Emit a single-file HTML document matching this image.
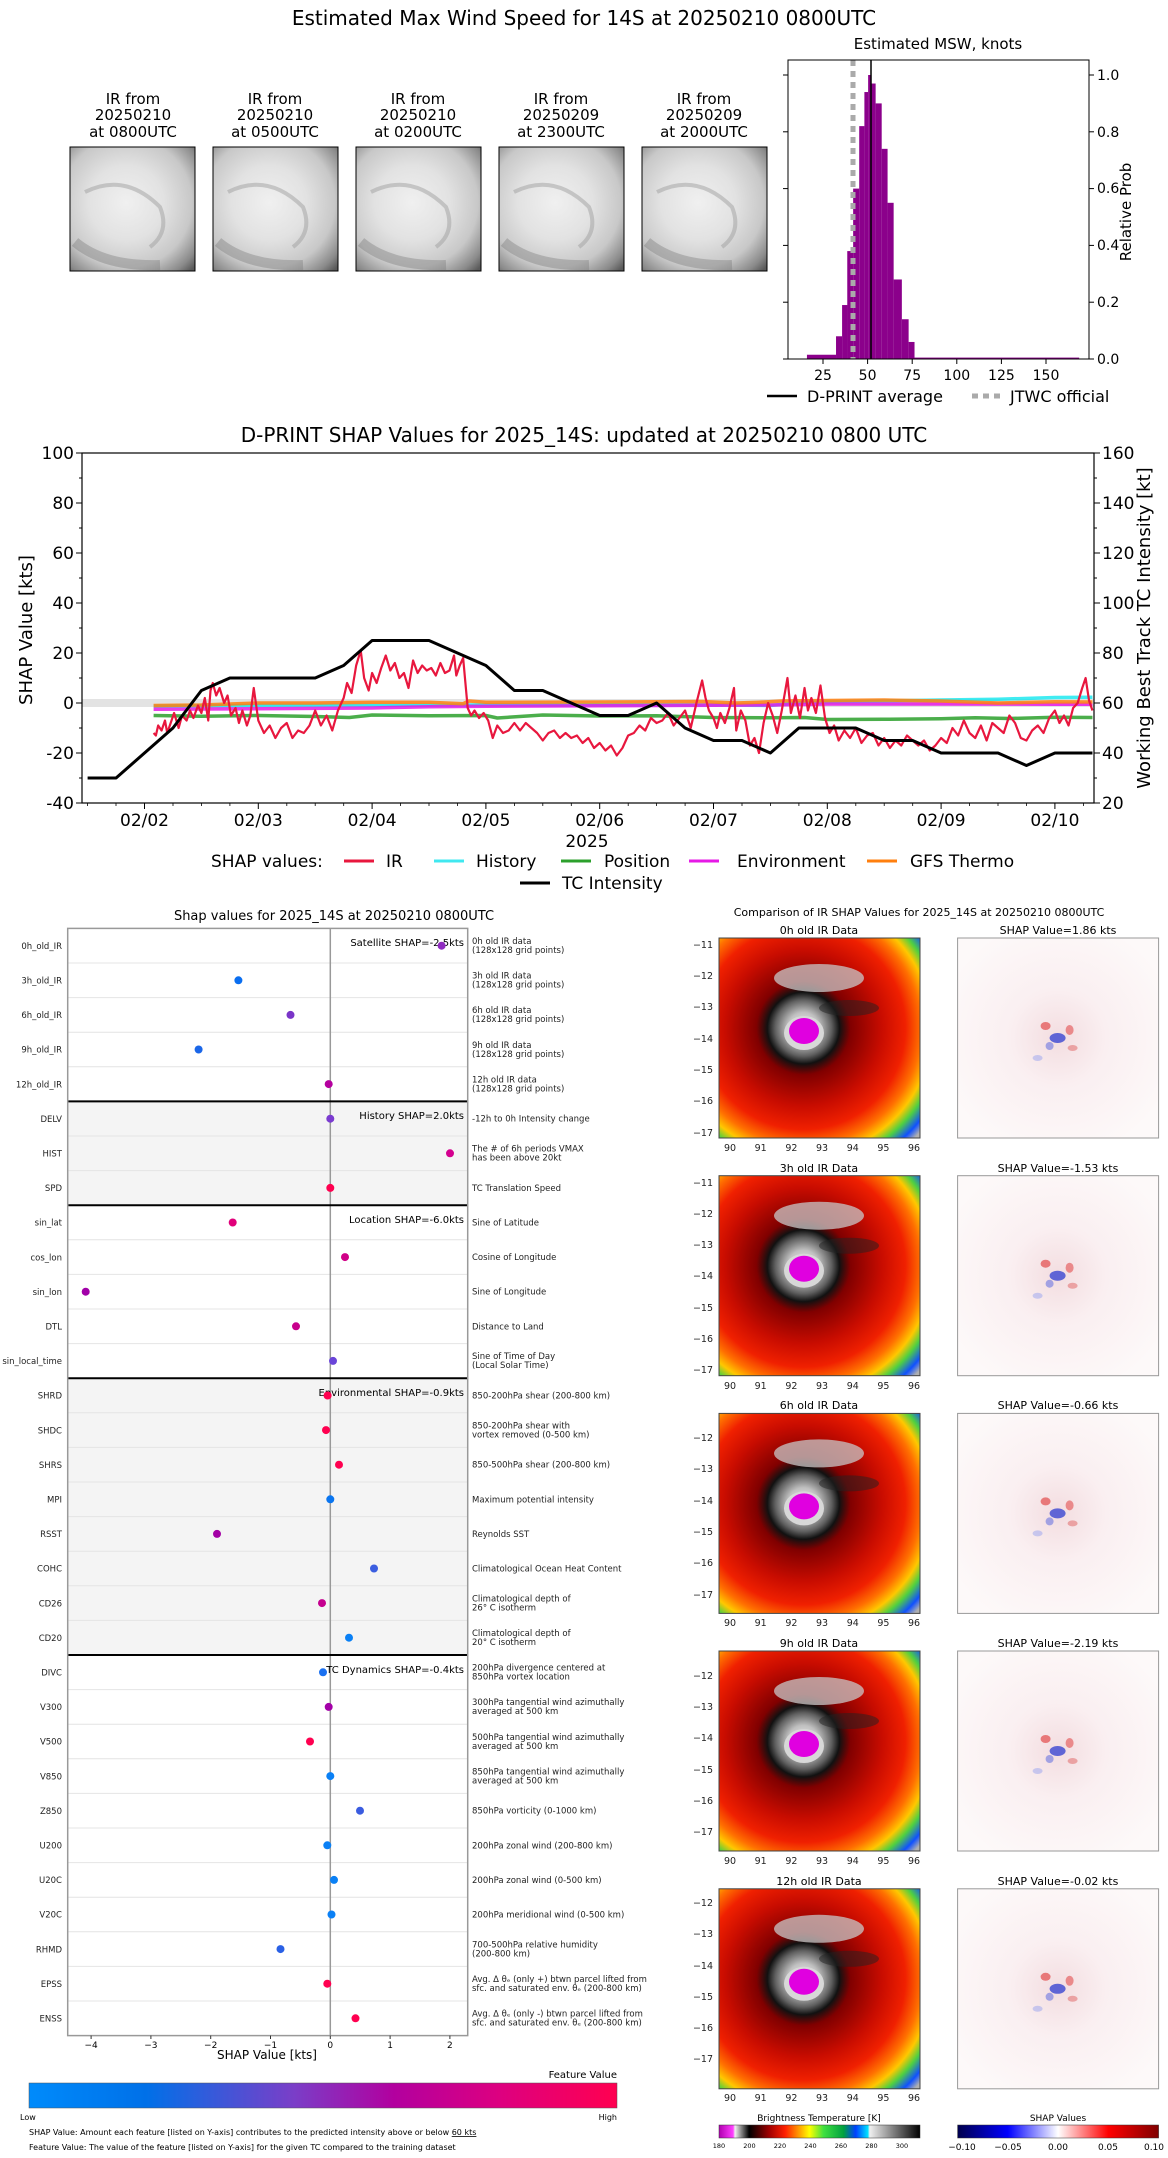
<!DOCTYPE html>
<html><head><meta charset="utf-8"><style>
html,body{margin:0;padding:0;background:#fff;}
svg{display:block;font-family:"DejaVu Sans","Liberation Sans",sans-serif;}
</style></head><body>
<svg width="1168" height="2158" viewBox="0 0 1168 2158" xmlns="http://www.w3.org/2000/svg">
<defs>
<radialGradient id="gthumb" cx="45%" cy="45%" r="75%">
<stop offset="0" stop-color="#f0f0f0"/><stop offset="0.4" stop-color="#e2e2e2"/><stop offset="0.7" stop-color="#c8c8c8"/><stop offset="0.9" stop-color="#8a8a8a"/><stop offset="1" stop-color="#5a5a5a"/>
</radialGradient>
<radialGradient id="girr" cx="42%" cy="45%" r="78%">
<stop offset="0" stop-color="#f0f0f0"/><stop offset="0.1" stop-color="#c0c0c0"/><stop offset="0.18" stop-color="#606060"/><stop offset="0.23" stop-color="#111"/><stop offset="0.3" stop-color="#800000"/><stop offset="0.5" stop-color="#c80c00"/><stop offset="0.65" stop-color="#f02000"/><stop offset="0.75" stop-color="#ff7000"/><stop offset="0.82" stop-color="#ffc800"/><stop offset="0.88" stop-color="#50d040"/><stop offset="0.95" stop-color="#1050ff"/><stop offset="1" stop-color="#b0b0b0"/>
</radialGradient>
<radialGradient id="gshap" cx="50%" cy="50%" r="60%">
<stop offset="0" stop-color="#f3dde0"/><stop offset="0.4" stop-color="#faeff1"/><stop offset="1" stop-color="#fdf9f9"/>
</radialGradient>
<linearGradient id="gfeat" x1="0" x2="1" y1="0" y2="0">
<stop offset="0" stop-color="#008bfb"/><stop offset="0.2" stop-color="#0070e8"/><stop offset="0.45" stop-color="#7a3ec8"/><stop offset="0.62" stop-color="#b2009f"/><stop offset="0.8" stop-color="#dd0080"/><stop offset="1" stop-color="#ff0050"/>
</linearGradient>
<linearGradient id="gbt" x1="0" x2="1" y1="0" y2="0">
<stop offset="0" stop-color="#b000b0"/><stop offset="0.07" stop-color="#ff40ff"/><stop offset="0.08" stop-color="#f0f0f0"/><stop offset="0.15" stop-color="#000"/><stop offset="0.25" stop-color="#a00000"/><stop offset="0.33" stop-color="#ff2000"/><stop offset="0.4" stop-color="#ffa000"/><stop offset="0.45" stop-color="#ffff00"/><stop offset="0.52" stop-color="#40e040"/><stop offset="0.62" stop-color="#00a040"/><stop offset="0.68" stop-color="#0040ff"/><stop offset="0.74" stop-color="#00e0ff"/><stop offset="0.75" stop-color="#f0f0f0"/><stop offset="1" stop-color="#000"/>
</linearGradient>
<linearGradient id="gsv" x1="0" x2="1" y1="0" y2="0">
<stop offset="0" stop-color="#00004c"/><stop offset="0.25" stop-color="#0000ff"/><stop offset="0.5" stop-color="#ffffff"/><stop offset="0.75" stop-color="#ff0000"/><stop offset="1" stop-color="#800000"/>
</linearGradient>
<symbol id="thumb" viewBox="0 0 125 124" width="125" height="124">
<rect width="125" height="124" fill="url(#gthumb)"/>
<path d="M15 45 Q55 25 90 60 Q100 85 80 100" fill="none" stroke="#a0a0a0" stroke-width="4" opacity="0.5"/>
<path d="M5 95 Q35 120 90 118" fill="none" stroke="#707070" stroke-width="10" opacity="0.35"/>
</symbol>
<symbol id="ir" viewBox="0 0 201 200" width="201" height="200">
<rect width="201" height="200" fill="#b00800"/>
<rect width="201" height="200" fill="url(#girr)"/>
<ellipse cx="100" cy="40" rx="45" ry="14" fill="#c8c8c8" opacity="0.75"/>
<ellipse cx="130" cy="70" rx="30" ry="8" fill="#222" opacity="0.5"/>
<ellipse cx="85" cy="95" rx="20" ry="17" fill="#d8d8d8"/>
<ellipse cx="85" cy="93" rx="15" ry="13" fill="#e000e0"/>
</symbol>
<symbol id="sh" viewBox="0 0 201 200" width="201" height="200">
<rect width="201" height="200" fill="url(#gshap)"/>
<ellipse cx="100" cy="100" rx="8" ry="5" fill="#2030d0" opacity="0.7"/>
<ellipse cx="88" cy="88" rx="5" ry="4" fill="#e03030" opacity="0.6"/>
<ellipse cx="112" cy="92" rx="4" ry="5" fill="#e03030" opacity="0.5"/>
<ellipse cx="92" cy="108" rx="4" ry="4" fill="#5060e0" opacity="0.5"/>
<ellipse cx="115" cy="110" rx="5" ry="3" fill="#e06060" opacity="0.5"/>
<ellipse cx="80" cy="120" rx="5" ry="3" fill="#8090f0" opacity="0.4"/>
</symbol>
</defs>

<!-- ===== TOP ===== -->
<text x="584" y="25" font-size="20" text-anchor="middle">Estimated Max Wind Speed for 14S at 20250210 0800UTC</text>
<g font-size="15" text-anchor="middle">
<text x="133" y="104">IR from</text><text x="133" y="120">20250210</text><text x="133" y="137">at 0800UTC</text>
<text x="275" y="104">IR from</text><text x="275" y="120">20250210</text><text x="275" y="137">at 0500UTC</text>
<text x="418" y="104">IR from</text><text x="418" y="120">20250210</text><text x="418" y="137">at 0200UTC</text>
<text x="561" y="104">IR from</text><text x="561" y="120">20250209</text><text x="561" y="137">at 2300UTC</text>
<text x="704" y="104">IR from</text><text x="704" y="120">20250209</text><text x="704" y="137">at 2000UTC</text>
</g>
<use href="#thumb" x="70" y="147"/><use href="#thumb" x="213" y="147"/><use href="#thumb" x="356" y="147"/><use href="#thumb" x="499" y="147"/><use href="#thumb" x="642" y="147"/>
<g fill="none" stroke="#000" stroke-width="1">
<rect x="70" y="147" width="125" height="124"/><rect x="213" y="147" width="125" height="124"/><rect x="356" y="147" width="125" height="124"/><rect x="499" y="147" width="125" height="124"/><rect x="642" y="147" width="125" height="124"/>
</g>

<!-- histogram -->
<text x="938" y="49" font-size="15" text-anchor="middle">Estimated MSW, knots</text>
<g transform="matrix(1.784 0 0 -284 778.4 359)" fill="#8b008b">
<rect x="16" y="0" width="16.3" height="0.015"/>
<rect x="32.3" y="0" width="3.4" height="0.08"/>
<rect x="35.7" y="0" width="3" height="0.19"/>
<rect x="38.6" y="0" width="3.3" height="0.38"/>
<rect x="41.9" y="0" width="3.4" height="0.6"/>
<rect x="45.3" y="0" width="2.9" height="0.82"/>
<rect x="48.2" y="0" width="2.1" height="0.94"/>
<rect x="50.3" y="0" width="1.8" height="1.0"/>
<rect x="52" y="0" width="2.5" height="0.97"/>
<rect x="54.5" y="0" width="3.4" height="0.9"/>
<rect x="57.9" y="0" width="3.3" height="0.74"/>
<rect x="61.2" y="0" width="3.4" height="0.55"/>
<rect x="64.6" y="0" width="4.6" height="0.28"/>
<rect x="69.2" y="0" width="3.8" height="0.14"/>
<rect x="73" y="0" width="3.3" height="0.06"/>
<rect x="76.3" y="0" width="92.3" height="0.005"/>
</g>
<line x1="853" y1="60" x2="853" y2="359" stroke="#aaa" stroke-width="5" stroke-dasharray="6,5"/>
<line x1="871" y1="60" x2="871" y2="359" stroke="#000" stroke-width="1.5"/>
<rect x="788" y="60" width="301" height="299" fill="none" stroke="#000" stroke-width="1"/>
<g stroke="#000">
<line x1="823" y1="359" x2="823" y2="364"/><line x1="867.6" y1="359" x2="867.6" y2="364"/><line x1="912.2" y1="359" x2="912.2" y2="364"/><line x1="956.8" y1="359" x2="956.8" y2="364"/><line x1="1001.4" y1="359" x2="1001.4" y2="364"/><line x1="1046" y1="359" x2="1046" y2="364"/>
<line x1="1089" y1="359" x2="1094" y2="359"/><line x1="1089" y1="302.2" x2="1094" y2="302.2"/><line x1="1089" y1="245.4" x2="1094" y2="245.4"/><line x1="1089" y1="188.6" x2="1094" y2="188.6"/><line x1="1089" y1="131.8" x2="1094" y2="131.8"/><line x1="1089" y1="75" x2="1094" y2="75"/>
<line x1="783" y1="359" x2="788" y2="359"/><line x1="783" y1="302.2" x2="788" y2="302.2"/><line x1="783" y1="245.4" x2="788" y2="245.4"/><line x1="783" y1="188.6" x2="788" y2="188.6"/><line x1="783" y1="131.8" x2="788" y2="131.8"/><line x1="783" y1="75" x2="788" y2="75"/>
</g>
<g font-size="14" text-anchor="middle">
<text x="823" y="380">25</text><text x="867.6" y="380">50</text><text x="912.2" y="380">75</text><text x="956.8" y="380">100</text><text x="1001.4" y="380">125</text><text x="1046" y="380">150</text>
</g>
<g font-size="14">
<text x="1097" y="364">0.0</text><text x="1097" y="307">0.2</text><text x="1097" y="250">0.4</text><text x="1097" y="193">0.6</text><text x="1097" y="137">0.8</text><text x="1097" y="80">1.0</text>
</g>
<text x="0" y="0" font-size="15" text-anchor="middle" transform="translate(1131 212) rotate(-90)">Relative Prob</text>
<line x1="767" y1="396" x2="797" y2="396" stroke="#000" stroke-width="2.5"/>
<text x="807" y="402" font-size="16">D-PRINT average</text>
<line x1="972" y1="396" x2="1000" y2="396" stroke="#aaa" stroke-width="5" stroke-dasharray="6,5"/>
<text x="1010" y="402" font-size="16">JTWC official</text>

<!-- ===== MIDDLE CHART ===== -->
<text x="584" y="442" font-size="20" text-anchor="middle">D-PRINT SHAP Values for 2025_14S: updated at 20250210 0800 UTC</text>
<rect x="82" y="699" width="1012" height="8" fill="#e3e3e3"/>
<g fill="none" stroke-linejoin="round">
<polyline vector-effect="non-scaling-stroke" stroke="#00e5ee" stroke-opacity="0.75" stroke-width="3.5" transform="matrix(113.8 0 0 -2.5 -83.1 703)" points="2.08,-1.3 3,-1 4,-1 5,-0.8 6,-0.8 7,-0.8 7.5,-1 7.8,0.3 8.5,0.8 9,1.2 9.5,1.5 10,2.2 10.33,2.3"/>
<polyline vector-effect="non-scaling-stroke" stroke="#2ca02c" stroke-opacity="0.85" stroke-width="3.5" transform="matrix(113.8 0 0 -2.5 -83.1 703)" points="2.08,-5 2.5,-5.3 3,-5 3.5,-5.4 3.8,-5.8 4,-4.8 4.5,-5.1 5,-5 5.1,-6 5.5,-4.8 6,-5.2 6.5,-5.1 7,-5.8 7.5,-5.9 7.8,-5.8 8,-6.6 8.5,-6.5 9,-6.3 9.3,-5.9 9.6,-6.2 10,-5.7 10.33,-5.8"/>
<polyline vector-effect="non-scaling-stroke" stroke="#e619e6" stroke-opacity="0.85" stroke-width="3.5" transform="matrix(113.8 0 0 -2.5 -83.1 703)" points="2.08,-2.5 3,-2.3 4,-2 4.5,-1.5 5,-1.3 6,-1.1 7,-0.9 7.5,-0.8 8,-0.4 9,-0.4 10,-0.5 10.33,-0.5"/>
<polyline vector-effect="non-scaling-stroke" stroke="#ff7f0e" stroke-opacity="0.85" stroke-width="3.5" transform="matrix(113.8 0 0 -2.5 -83.1 703)" points="2.08,-1 2.5,-0.8 3,0 3.5,0 4,0.3 4.5,0.3 4.8,-0.3 4.85,0.8 5,0.3 6,0.4 6.5,0.5 6.9,0.6 7.2,0 7.4,0.3 7.6,0.8 8,1 8.5,1.2 9,0.8 9.5,0 10,0.5 10.33,0.4"/>
<polyline vector-effect="non-scaling-stroke" stroke="#e8173e" stroke-width="2.2" transform="matrix(113.8 0 0 -2.5 -83.1 703)" points="2.08,-12 2.1,-13 2.12,-9 2.15,-11 2.18,-7 2.2,-12 2.23,-8 2.26,-4 2.3,-10 2.33,-5 2.37,-7 2.4,-3 2.43,-6 2.47,-1 2.5,-4 2.53,2 2.56,-7 2.58,5 2.6,8 2.63,3 2.66,6 2.7,0 2.73,3 2.76,-5 2.8,-2 2.83,-8 2.86,-3 2.9,-9 2.93,-5 2.96,6 3.0,-7 3.05,-12 3.1,-9 3.15,-14 3.2,-10 3.25,-8 3.3,-14 3.35,-11 3.4,-12 3.45,-9 3.5,-3 3.55,-9 3.6,-5 3.65,-11 3.7,-3 3.75,2 3.78,8 3.82,4 3.86,15 3.9,21 3.93,10 3.97,5 4.0,12 4.04,8 4.08,14 4.12,19 4.16,13 4.2,16 4.24,10 4.28,12 4.32,6 4.36,17 4.4,12 4.44,15 4.48,13 4.52,14 4.56,11 4.6,16 4.64,12 4.68,13 4.72,19 4.74,11 4.77,15 4.8,18 4.82,8 4.84,-2 4.87,-5 4.9,-3 4.94,-6 4.98,-4 5.02,-7 5.06,-14 5.1,-9 5.15,-12 5.2,-11 5.25,-8 5.3,-11 5.35,-8 5.4,-10 5.45,-12 5.5,-15 5.55,-12 5.6,-11 5.65,-14 5.7,-12 5.75,-14 5.8,-13 5.85,-16 5.9,-14 5.95,-18 6.0,-16 6.05,-19 6.1,-17 6.15,-21 6.2,-18 6.25,-13 6.3,-12 6.35,-9 6.4,-11 6.45,-6 6.5,-8 6.55,-7 6.6,-4 6.65,-9 6.7,-6 6.75,-3 6.8,-10 6.85,0 6.9,9 6.93,2 6.96,-3 7.0,-6 7.03,-10 7.06,-4 7.1,-8 7.14,-2 7.18,6 7.2,-11 7.24,-3 7.28,-7 7.32,-17 7.36,-14 7.4,-20 7.44,-8 7.48,0 7.52,-5 7.56,-12 7.6,-3 7.65,10 7.68,-4 7.72,3 7.76,-6 7.8,6 7.83,-3 7.86,2 7.9,-4 7.94,7 7.98,-6 8.02,-12 8.06,-9 8.1,-15 8.15,-11 8.2,-14 8.25,-10 8.3,-16 8.35,-13 8.4,-12 8.45,-17 8.5,-14 8.55,-18 8.6,-15 8.65,-17 8.7,-13 8.75,-15 8.8,-17 8.85,-15 8.9,-19 8.95,-17 9.0,-14 9.05,-16 9.1,-10 9.15,-13 9.2,-7 9.25,-12 9.3,-14 9.35,-9 9.4,-15 9.45,-8 9.5,-10 9.55,-12 9.6,-5 9.65,-8 9.7,-14 9.75,-15 9.8,-11 9.85,-9 9.9,-12 9.95,-6 10.0,-3 10.04,-8 10.08,-5 10.12,-9 10.16,-2 10.2,0 10.24,6 10.27,10 10.3,1 10.33,-3"/>
<polyline vector-effect="non-scaling-stroke" stroke="#000" stroke-width="3" transform="matrix(113.8 0 0 -2.5 -83.1 853)" points="1.5,30 1.75,30 2.25,50 2.5,65 2.75,70 3.5,70 3.75,75 4,85 4.5,85 5,75 5.25,65 5.5,65 6,55 6.25,55 6.5,60 6.75,50 7,45 7.25,45 7.5,40 7.75,50 8.25,50 8.5,45 8.75,45 9,40 9.5,40 9.75,35 10,40 10.33,40"/>
</g>
<rect x="82" y="453" width="1012" height="350" fill="none" stroke="#000" stroke-width="1.2"/>
<g stroke="#000" stroke-width="1">
<line x1="76" y1="453" x2="82" y2="453"/><line x1="76" y1="503" x2="82" y2="503"/><line x1="76" y1="553" x2="82" y2="553"/><line x1="76" y1="603" x2="82" y2="603"/><line x1="76" y1="653" x2="82" y2="653"/><line x1="76" y1="703" x2="82" y2="703"/><line x1="76" y1="753" x2="82" y2="753"/><line x1="76" y1="803" x2="82" y2="803"/>
<line x1="79" y1="478" x2="82" y2="478"/><line x1="79" y1="528" x2="82" y2="528"/><line x1="79" y1="578" x2="82" y2="578"/><line x1="79" y1="628" x2="82" y2="628"/><line x1="79" y1="678" x2="82" y2="678"/><line x1="79" y1="728" x2="82" y2="728"/><line x1="79" y1="778" x2="82" y2="778"/>
<line x1="1094" y1="453" x2="1100" y2="453"/><line x1="1094" y1="503" x2="1100" y2="503"/><line x1="1094" y1="553" x2="1100" y2="553"/><line x1="1094" y1="603" x2="1100" y2="603"/><line x1="1094" y1="653" x2="1100" y2="653"/><line x1="1094" y1="703" x2="1100" y2="703"/><line x1="1094" y1="753" x2="1100" y2="753"/><line x1="1094" y1="803" x2="1100" y2="803"/>
<line x1="1094" y1="478" x2="1097" y2="478"/><line x1="1094" y1="528" x2="1097" y2="528"/><line x1="1094" y1="578" x2="1097" y2="578"/><line x1="1094" y1="628" x2="1097" y2="628"/><line x1="1094" y1="678" x2="1097" y2="678"/><line x1="1094" y1="728" x2="1097" y2="728"/><line x1="1094" y1="778" x2="1097" y2="778"/>
<line x1="144.5" y1="803" x2="144.5" y2="809"/><line x1="258.3" y1="803" x2="258.3" y2="809"/><line x1="372.1" y1="803" x2="372.1" y2="809"/><line x1="485.9" y1="803" x2="485.9" y2="809"/><line x1="599.7" y1="803" x2="599.7" y2="809"/><line x1="713.5" y1="803" x2="713.5" y2="809"/><line x1="827.3" y1="803" x2="827.3" y2="809"/><line x1="941.1" y1="803" x2="941.1" y2="809"/><line x1="1054.9" y1="803" x2="1054.9" y2="809"/>
</g>
<g stroke="#000" stroke-width="0.8">
<line x1="87.6" y1="803" x2="87.6" y2="806"/><line x1="116" y1="803" x2="116" y2="806"/><line x1="173" y1="803" x2="173" y2="806"/><line x1="201.4" y1="803" x2="201.4" y2="806"/><line x1="229.9" y1="803" x2="229.9" y2="806"/><line x1="286.8" y1="803" x2="286.8" y2="806"/><line x1="315.2" y1="803" x2="315.2" y2="806"/><line x1="343.7" y1="803" x2="343.7" y2="806"/><line x1="400.6" y1="803" x2="400.6" y2="806"/><line x1="429" y1="803" x2="429" y2="806"/><line x1="457.5" y1="803" x2="457.5" y2="806"/><line x1="514.4" y1="803" x2="514.4" y2="806"/><line x1="542.8" y1="803" x2="542.8" y2="806"/><line x1="571.3" y1="803" x2="571.3" y2="806"/><line x1="628.2" y1="803" x2="628.2" y2="806"/><line x1="656.6" y1="803" x2="656.6" y2="806"/><line x1="685.1" y1="803" x2="685.1" y2="806"/><line x1="742" y1="803" x2="742" y2="806"/><line x1="770.4" y1="803" x2="770.4" y2="806"/><line x1="798.9" y1="803" x2="798.9" y2="806"/><line x1="855.8" y1="803" x2="855.8" y2="806"/><line x1="884.2" y1="803" x2="884.2" y2="806"/><line x1="912.7" y1="803" x2="912.7" y2="806"/><line x1="969.6" y1="803" x2="969.6" y2="806"/><line x1="998" y1="803" x2="998" y2="806"/><line x1="1026.5" y1="803" x2="1026.5" y2="806"/><line x1="1083.4" y1="803" x2="1083.4" y2="806"/>
</g>
<g font-size="17" text-anchor="end">
<text x="74" y="459">100</text><text x="74" y="509">80</text><text x="74" y="559">60</text><text x="74" y="609">40</text><text x="74" y="659">20</text><text x="74" y="709">0</text><text x="74" y="759">-20</text><text x="74" y="809">-40</text>
</g>
<g font-size="17">
<text x="1102" y="459">160</text><text x="1102" y="509">140</text><text x="1102" y="559">120</text><text x="1102" y="609">100</text><text x="1102" y="659">80</text><text x="1102" y="709">60</text><text x="1102" y="759">40</text><text x="1102" y="809">20</text>
</g>
<g font-size="17" text-anchor="middle">
<text x="144.5" y="826">02/02</text><text x="258.3" y="826">02/03</text><text x="372.1" y="826">02/04</text><text x="485.9" y="826">02/05</text><text x="599.7" y="826">02/06</text><text x="713.5" y="826">02/07</text><text x="827.3" y="826">02/08</text><text x="941.1" y="826">02/09</text><text x="1054.9" y="826">02/10</text>
<text x="587" y="847">2025</text>
</g>
<text font-size="18" text-anchor="middle" transform="translate(32 630) rotate(-90)">SHAP Value [kts]</text>
<text font-size="18" text-anchor="middle" transform="translate(1150 628) rotate(-90)">Working Best Track TC Intensity [kt]</text>
<g font-size="17">
<text x="211" y="867">SHAP values:</text>
<line x1="344" y1="861" x2="374" y2="861" stroke="#e8173e" stroke-width="3"/><text x="386" y="867">IR</text>
<line x1="434" y1="861" x2="464" y2="861" stroke="#40e8f0" stroke-width="3"/><text x="476" y="867">History</text>
<line x1="561" y1="861" x2="591" y2="861" stroke="#2ca02c" stroke-width="3"/><text x="604" y="867">Position</text>
<line x1="689" y1="861" x2="719" y2="861" stroke="#e619e6" stroke-width="3"/><text x="737" y="867">Environment</text>
<line x1="867" y1="861" x2="897" y2="861" stroke="#ff7f0e" stroke-width="3"/><text x="910" y="867">GFS Thermo</text>
<line x1="520" y1="883" x2="550" y2="883" stroke="#000" stroke-width="3"/><text x="562" y="889">TC Intensity</text>
</g>

<!-- ===== SHAP DOT PANEL ===== -->
<text x="334" y="920" font-size="13" text-anchor="middle">Shap values for 2025_14S at 20250210 0800UTC</text>
<rect x="67.7" y="1101.4" width="400" height="103.8" fill="#f4f4f4"/>
<rect x="67.7" y="1378.2" width="400" height="276.8" fill="#f4f4f4"/>
<g stroke="#e4e4e4" stroke-width="1">
<line x1="68" x2="467" y1="963" y2="963"/><line x1="68" x2="467" y1="997.6" y2="997.6"/><line x1="68" x2="467" y1="1032.2" y2="1032.2"/><line x1="68" x2="467" y1="1066.8" y2="1066.8"/>
<line x1="68" x2="467" y1="1136" y2="1136"/><line x1="68" x2="467" y1="1170.6" y2="1170.6"/>
<line x1="68" x2="467" y1="1239.8" y2="1239.8"/><line x1="68" x2="467" y1="1274.4" y2="1274.4"/><line x1="68" x2="467" y1="1309" y2="1309"/><line x1="68" x2="467" y1="1343.6" y2="1343.6"/>
<line x1="68" x2="467" y1="1412.8" y2="1412.8"/><line x1="68" x2="467" y1="1447.4" y2="1447.4"/><line x1="68" x2="467" y1="1482" y2="1482"/><line x1="68" x2="467" y1="1516.6" y2="1516.6"/><line x1="68" x2="467" y1="1551.2" y2="1551.2"/><line x1="68" x2="467" y1="1585.8" y2="1585.8"/><line x1="68" x2="467" y1="1620.4" y2="1620.4"/>
<line x1="68" x2="467" y1="1689.6" y2="1689.6"/><line x1="68" x2="467" y1="1724.2" y2="1724.2"/><line x1="68" x2="467" y1="1758.8" y2="1758.8"/><line x1="68" x2="467" y1="1793.4" y2="1793.4"/><line x1="68" x2="467" y1="1828" y2="1828"/><line x1="68" x2="467" y1="1862.6" y2="1862.6"/><line x1="68" x2="467" y1="1897.2" y2="1897.2"/><line x1="68" x2="467" y1="1931.8" y2="1931.8"/><line x1="68" x2="467" y1="1966.4" y2="1966.4"/><line x1="68" x2="467" y1="2001" y2="2001"/>
</g>
<line x1="330.3" y1="928.4" x2="330.3" y2="2035.6" stroke="#999" stroke-width="1.5"/>
<g stroke="#000" stroke-width="2">
<line x1="67.7" x2="467.7" y1="1101.4" y2="1101.4"/><line x1="67.7" x2="467.7" y1="1205.2" y2="1205.2"/><line x1="67.7" x2="467.7" y1="1378.2" y2="1378.2"/><line x1="67.7" x2="467.7" y1="1655" y2="1655"/>
</g>
<rect x="67.7" y="928.4" width="400" height="1107.2" fill="none" stroke="#999" stroke-width="1.5"/>
<g font-size="10" text-anchor="end">
<text x="464" y="946">Satellite SHAP=-2.5kts</text>
<text x="464" y="1119">History SHAP=2.0kts</text>
<text x="464" y="1223">Location SHAP=-6.0kts</text>
<text x="464" y="1396">Environmental SHAP=-0.9kts</text>
<text x="464" y="1673">TC Dynamics SHAP=-0.4kts</text>
</g>
<g>
<circle cx="441.6" cy="945.7" r="4" fill="#8f2cc0"/>
<circle cx="238.4" cy="980.3" r="4" fill="#0a6ef0"/>
<circle cx="290.5" cy="1014.9" r="4" fill="#7a35c8"/>
<circle cx="198.6" cy="1049.5" r="4" fill="#1a66e8"/>
<circle cx="328.7" cy="1084.1" r="4" fill="#b5009f"/>
<circle cx="330.3" cy="1118.7" r="4" fill="#7b3bd0"/>
<circle cx="450" cy="1153.3" r="4" fill="#d4008f"/>
<circle cx="330.3" cy="1187.9" r="4" fill="#ff0050"/>
<circle cx="232.7" cy="1222.5" r="4" fill="#e0007a"/>
<circle cx="345" cy="1257.1" r="4" fill="#d00087"/>
<circle cx="85.7" cy="1291.7" r="4" fill="#a100a8"/>
<circle cx="296" cy="1326.3" r="4" fill="#c8008c"/>
<circle cx="333" cy="1360.9" r="4" fill="#6a45d8"/>
<circle cx="327.6" cy="1395.5" r="4" fill="#ff0050"/>
<circle cx="326" cy="1430.1" r="4" fill="#ff0050"/>
<circle cx="339" cy="1464.7" r="4" fill="#ff0050"/>
<circle cx="330.3" cy="1499.3" r="4" fill="#0a75f0"/>
<circle cx="217" cy="1533.9" r="4" fill="#a300a5"/>
<circle cx="374" cy="1568.5" r="4" fill="#3b5ee0"/>
<circle cx="322" cy="1603.1" r="4" fill="#c5008f"/>
<circle cx="349" cy="1637.7" r="4" fill="#0a80f5"/>
<circle cx="323" cy="1672.3" r="4" fill="#1a70f0"/>
<circle cx="328.7" cy="1706.9" r="4" fill="#a300a8"/>
<circle cx="310" cy="1741.5" r="4" fill="#ff0050"/>
<circle cx="330.3" cy="1776.1" r="4" fill="#0a80f5"/>
<circle cx="360" cy="1810.7" r="4" fill="#3a5ce0"/>
<circle cx="327.3" cy="1845.3" r="4" fill="#0a80f5"/>
<circle cx="334" cy="1879.9" r="4" fill="#0a80f5"/>
<circle cx="331.5" cy="1914.5" r="4" fill="#0a80f5"/>
<circle cx="280.5" cy="1949.1" r="4" fill="#2a60e5"/>
<circle cx="327.3" cy="1983.7" r="4" fill="#ff0050"/>
<circle cx="355.5" cy="2018.3" r="4" fill="#ff0050"/>
</g>
<g font-size="8.5" text-anchor="end" fill="#222">
<text x="62" y="949">0h_old_IR</text><text x="62" y="983.5">3h_old_IR</text><text x="62" y="1018">6h_old_IR</text><text x="62" y="1052.7">9h_old_IR</text><text x="62" y="1087.3">12h_old_IR</text>
<text x="62" y="1122">DELV</text><text x="62" y="1156.5">HIST</text><text x="62" y="1191">SPD</text>
<text x="62" y="1225.7">sin_lat</text><text x="62" y="1260.3">cos_lon</text><text x="62" y="1295">sin_lon</text><text x="62" y="1329.5">DTL</text><text x="62" y="1364">sin_local_time</text>
<text x="62" y="1398.7">SHRD</text><text x="62" y="1433.3">SHDC</text><text x="62" y="1468">SHRS</text><text x="62" y="1502.5">MPI</text><text x="62" y="1537">RSST</text><text x="62" y="1571.7">COHC</text><text x="62" y="1606.3">CD26</text><text x="62" y="1641">CD20</text>
<text x="62" y="1675.5">DIVC</text><text x="62" y="1710">V300</text><text x="62" y="1744.7">V500</text><text x="62" y="1779.3">V850</text><text x="62" y="1814">Z850</text><text x="62" y="1848.5">U200</text><text x="62" y="1883">U20C</text><text x="62" y="1917.7">V20C</text><text x="62" y="1952.3">RHMD</text><text x="62" y="1987">EPSS</text><text x="62" y="2021.5">ENSS</text>
</g>
<g font-size="8.5" fill="#222">
<text x="472" y="944">0h old IR data</text><text x="472" y="953">(128x128 grid points)</text>
<text x="472" y="978.6">3h old IR data</text><text x="472" y="987.6">(128x128 grid points)</text>
<text x="472" y="1013.2">6h old IR data</text><text x="472" y="1022.2">(128x128 grid points)</text>
<text x="472" y="1047.8">9h old IR data</text><text x="472" y="1056.8">(128x128 grid points)</text>
<text x="472" y="1082.4">12h old IR data</text><text x="472" y="1091.4">(128x128 grid points)</text>
<text x="472" y="1121.7">-12h to 0h Intensity change</text>
<text x="472" y="1151.6">The # of 6h periods VMAX</text><text x="472" y="1160.6">has been above 20kt</text>
<text x="472" y="1191">TC Translation Speed</text>
<text x="472" y="1225.5">Sine of Latitude</text>
<text x="472" y="1260">Cosine of Longitude</text>
<text x="472" y="1294.7">Sine of Longitude</text>
<text x="472" y="1329.3">Distance to Land</text>
<text x="472" y="1359.2">Sine of Time of Day</text><text x="472" y="1368.2">(Local Solar Time)</text>
<text x="472" y="1398.5">850-200hPa shear (200-800 km)</text>
<text x="472" y="1428.4">850-200hPa shear with</text><text x="472" y="1437.4">vortex removed (0-500 km)</text>
<text x="472" y="1467.7">850-500hPa shear (200-800 km)</text>
<text x="472" y="1502.3">Maximum potential intensity</text>
<text x="472" y="1537">Reynolds SST</text>
<text x="472" y="1571.5">Climatological Ocean Heat Content</text>
<text x="472" y="1601.4">Climatological depth of</text><text x="472" y="1610.4">26° C isotherm</text>
<text x="472" y="1636">Climatological depth of</text><text x="472" y="1645">20° C isotherm</text>
<text x="472" y="1670.6">200hPa divergence centered at</text><text x="472" y="1679.6">850hPa vortex location</text>
<text x="472" y="1705.2">300hPa tangential wind azimuthally</text><text x="472" y="1714.2">averaged at 500 km</text>
<text x="472" y="1739.8">500hPa tangential wind azimuthally</text><text x="472" y="1748.8">averaged at 500 km</text>
<text x="472" y="1774.4">850hPa tangential wind azimuthally</text><text x="472" y="1783.4">averaged at 500 km</text>
<text x="472" y="1813.7">850hPa vorticity (0-1000 km)</text>
<text x="472" y="1848.3">200hPa zonal wind (200-800 km)</text>
<text x="472" y="1883">200hPa zonal wind (0-500 km)</text>
<text x="472" y="1917.5">200hPa meridional wind (0-500 km)</text>
<text x="472" y="1947.4">700-500hPa relative humidity</text><text x="472" y="1956.4">(200-800 km)</text>
<text x="472" y="1982">Avg. Δ θₑ (only +) btwn parcel lifted from</text><text x="472" y="1991">sfc. and saturated env. θₑ (200-800 km)</text>
<text x="472" y="2016.6">Avg. Δ θₑ (only -) btwn parcel lifted from</text><text x="472" y="2025.6">sfc. and saturated env. θₑ (200-800 km)</text>
</g>
<g stroke="#333" stroke-width="1">
<line x1="91.1" y1="2035.6" x2="91.1" y2="2039"/><line x1="150.9" y1="2035.6" x2="150.9" y2="2039"/><line x1="210.7" y1="2035.6" x2="210.7" y2="2039"/><line x1="270.5" y1="2035.6" x2="270.5" y2="2039"/><line x1="330.3" y1="2035.6" x2="330.3" y2="2039"/><line x1="390.1" y1="2035.6" x2="390.1" y2="2039"/><line x1="449.9" y1="2035.6" x2="449.9" y2="2039"/>
</g>
<g font-size="9" text-anchor="middle">
<text x="91.1" y="2048">−4</text><text x="150.9" y="2048">−3</text><text x="210.7" y="2048">−2</text><text x="270.5" y="2048">−1</text><text x="330.3" y="2048">0</text><text x="390.1" y="2048">1</text><text x="449.9" y="2048">2</text>
</g>
<text x="267" y="2059" font-size="12" text-anchor="middle">SHAP Value [kts]</text>
<text x="617" y="2078" font-size="10" text-anchor="end">Feature Value</text>
<rect x="29" y="2083" width="588" height="25" fill="url(#gfeat)" stroke="#555" stroke-width="0.5"/>
<text x="20" y="2120" font-size="8">Low</text>
<text x="617" y="2120" font-size="8" text-anchor="end">High</text>
<text x="29" y="2135" font-size="8">SHAP Value: Amount each feature [listed on Y-axis] contributes to the predicted intensity above or below <tspan text-decoration="underline">60 kts</tspan></text>
<text x="29" y="2150" font-size="8">Feature Value: The value of the feature [listed on Y-axis] for the given TC compared to the training dataset</text>

<!-- ===== IR COMPARISON ===== -->
<text x="919" y="916" font-size="11" text-anchor="middle">Comparison of IR SHAP Values for 2025_14S at 20250210 0800UTC</text>
<g font-size="11" text-anchor="middle">
<text x="819" y="934">0h old IR Data</text><text x="1058" y="934">SHAP Value=1.86 kts</text>
<text x="819" y="1172">3h old IR Data</text><text x="1058" y="1172">SHAP Value=-1.53 kts</text>
<text x="819" y="1409">6h old IR Data</text><text x="1058" y="1409">SHAP Value=-0.66 kts</text>
<text x="819" y="1647">9h old IR Data</text><text x="1058" y="1647">SHAP Value=-2.19 kts</text>
<text x="819" y="1885">12h old IR Data</text><text x="1058" y="1885">SHAP Value=-0.02 kts</text>
</g>
<use href="#ir" x="719" y="938"/><use href="#ir" x="719" y="1175.7"/><use href="#ir" x="719" y="1413.4"/><use href="#ir" x="719" y="1651"/><use href="#ir" x="719" y="1888.8"/>
<use href="#sh" x="957.6" y="938"/><use href="#sh" x="957.6" y="1175.7"/><use href="#sh" x="957.6" y="1413.4"/><use href="#sh" x="957.6" y="1651"/><use href="#sh" x="957.6" y="1888.8"/>
<g fill="none" stroke="#444" stroke-width="1">
<rect x="719" y="938" width="201" height="200"/><rect x="719" y="1175.7" width="201" height="200"/><rect x="719" y="1413.4" width="201" height="200"/><rect x="719" y="1651" width="201" height="200"/><rect x="719" y="1888.8" width="201" height="200"/>
</g>
<g fill="none" stroke="#999" stroke-width="1">
<rect x="957.6" y="938" width="201" height="200"/><rect x="957.6" y="1175.7" width="201" height="200"/><rect x="957.6" y="1413.4" width="201" height="200"/><rect x="957.6" y="1651" width="201" height="200"/><rect x="957.6" y="1888.8" width="201" height="200"/>
</g>
<g font-size="9.5" text-anchor="end" fill="#222">
<text x="713" y="948">−11</text><text x="713" y="979">−12</text><text x="713" y="1010">−13</text><text x="713" y="1042">−14</text><text x="713" y="1073">−15</text><text x="713" y="1104">−16</text><text x="713" y="1136">−17</text>
<text x="713" y="1186">−11</text><text x="713" y="1217">−12</text><text x="713" y="1248">−13</text><text x="713" y="1279">−14</text><text x="713" y="1311">−15</text><text x="713" y="1342">−16</text><text x="713" y="1373">−17</text>
<text x="713" y="1441">−12</text><text x="713" y="1472">−13</text><text x="713" y="1504">−14</text><text x="713" y="1535">−15</text><text x="713" y="1566">−16</text><text x="713" y="1598">−17</text>
<text x="713" y="1679">−12</text><text x="713" y="1710">−13</text><text x="713" y="1741">−14</text><text x="713" y="1773">−15</text><text x="713" y="1804">−16</text><text x="713" y="1835">−17</text>
<text x="713" y="1906">−12</text><text x="713" y="1937">−13</text><text x="713" y="1969">−14</text><text x="713" y="2000">−15</text><text x="713" y="2031">−16</text><text x="713" y="2062">−17</text>
</g>
<g font-size="9.5" text-anchor="middle" fill="#222">
<text x="730" y="1151">90</text><text x="760.7" y="1151">91</text><text x="791.4" y="1151">92</text><text x="822" y="1151">93</text><text x="852.8" y="1151">94</text><text x="883.4" y="1151">95</text><text x="914" y="1151">96</text>
<text x="730" y="1389">90</text><text x="760.7" y="1389">91</text><text x="791.4" y="1389">92</text><text x="822" y="1389">93</text><text x="852.8" y="1389">94</text><text x="883.4" y="1389">95</text><text x="914" y="1389">96</text>
<text x="730" y="1626">90</text><text x="760.7" y="1626">91</text><text x="791.4" y="1626">92</text><text x="822" y="1626">93</text><text x="852.8" y="1626">94</text><text x="883.4" y="1626">95</text><text x="914" y="1626">96</text>
<text x="730" y="1864">90</text><text x="760.7" y="1864">91</text><text x="791.4" y="1864">92</text><text x="822" y="1864">93</text><text x="852.8" y="1864">94</text><text x="883.4" y="1864">95</text><text x="914" y="1864">96</text>
<text x="730" y="2101">90</text><text x="760.7" y="2101">91</text><text x="791.4" y="2101">92</text><text x="822" y="2101">93</text><text x="852.8" y="2101">94</text><text x="883.4" y="2101">95</text><text x="914" y="2101">96</text>
</g>
<text x="819" y="2121" font-size="9" text-anchor="middle">Brightness Temperature [K]</text>
<rect x="719" y="2125" width="201" height="13" fill="url(#gbt)" stroke="#333" stroke-width="0.5"/>
<g font-size="6.5" text-anchor="middle">
<text x="719" y="2148">180</text><text x="749.5" y="2148">200</text><text x="780" y="2148">220</text><text x="810.5" y="2148">240</text><text x="841" y="2148">260</text><text x="871.5" y="2148">280</text><text x="902" y="2148">300</text>
</g>
<text x="1058" y="2121" font-size="9" text-anchor="middle">SHAP Values</text>
<rect x="957.6" y="2125" width="201" height="13" fill="url(#gsv)" stroke="#333" stroke-width="0.5"/>
<g font-size="9" text-anchor="middle">
<text x="962" y="2150">−0.10</text><text x="1008" y="2150">−0.05</text><text x="1058" y="2150">0.00</text><text x="1108" y="2150">0.05</text><text x="1154" y="2150">0.10</text>
</g>
</svg>
</body></html>
